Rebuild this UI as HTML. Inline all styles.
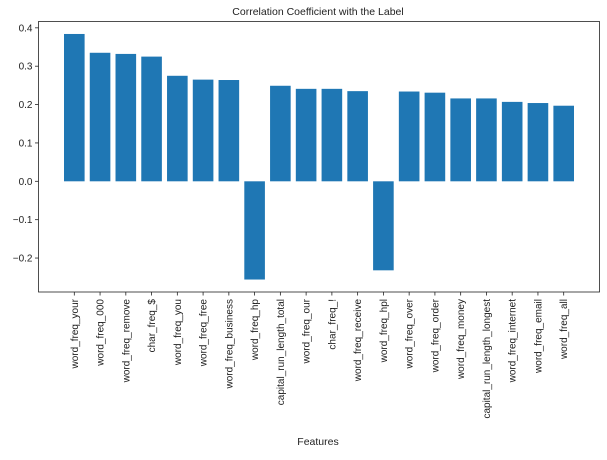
<!DOCTYPE html>
<html><head><meta charset="utf-8"><style>
body{margin:0;background:#fff}
svg text{font-family:"Liberation Sans","DejaVu Sans",sans-serif;fill:#222}
</style></head><body>
<svg id="chart" width="607" height="455" xmlns="http://www.w3.org/2000/svg">
<text x="318" y="15" text-anchor="middle" font-size="10.5">Correlation Coefficient with the Label</text>
<text x="318" y="445" text-anchor="middle" font-size="10.5">Features</text>
<g id="marks"></g>
</svg>
<script>
const categories=["word_freq_your","word_freq_000","word_freq_remove","char_freq_$","word_freq_you","word_freq_free","word_freq_business","word_freq_hp","capital_run_length_total","word_freq_our","char_freq_!","word_freq_receive","word_freq_hpl","word_freq_over","word_freq_order","word_freq_money","capital_run_length_longest","word_freq_internet","word_freq_email","word_freq_all"];
const values=[0.384,0.335,0.332,0.325,0.275,0.265,0.264,-0.256,0.249,0.241,0.241,0.235,-0.232,0.234,0.231,0.216,0.216,0.207,0.204,0.197];
const yTicks=[-0.2,-0.1,0.0,0.1,0.2,0.3,0.4];
const L=38.5,R=599.5,T=21.5,B=292;
const ymin=-0.2885,ymax=0.4165;
const xmin=-1.39,xmax=categories.length-1+1.39;
const ys=v=>B-(v-ymin)/(ymax-ymin)*(B-T);
const xs=i=>L+(i-xmin)/(xmax-xmin)*(R-L);
const NS="http://www.w3.org/2000/svg";
const g=document.getElementById('marks');
function mk(t,a){const e=document.createElementNS(NS,t);for(const k in a)e.setAttribute(k,a[k]);g.appendChild(e);return e;}
const bw=(xs(0.8)-xs(0));
values.forEach((v,i)=>{
  const y0=ys(0),y1=ys(v);
  const r=mk('rect',{x:xs(i)-bw/2,y:Math.min(y0,y1),width:bw,height:Math.abs(y1-y0),fill:'#1f77b4'});
  
  
});
categories.forEach((c,i)=>{
  const x=xs(i);
  const t=mk('line',{x1:x,x2:x,y1:B,y2:B+3.5,stroke:'#222','stroke-width':0.8});
  
  
  const l=mk('text',{x:0,y:0,'font-size':10,'text-anchor':'end',transform:`translate(${x+3.5},${B+7}) rotate(-90)`});
  l.textContent=c;
  
  
});
yTicks.forEach(v=>{
  const y=ys(v);
  const t=mk('line',{x1:L-3.5,x2:L,y1:y,y2:y,stroke:'#222','stroke-width':0.8});
  
  
  const l=mk('text',{x:L-6,y:y+3.5,'font-size':10,'text-anchor':'end'});
  l.textContent=(v<0?'\u2212':'')+Math.abs(v).toFixed(1);
  
  
});
const fr=mk('rect',{x:L,y:T,width:R-L,height:B-T,fill:'none',stroke:'#222','stroke-width':0.8});


</script>
</body></html>
